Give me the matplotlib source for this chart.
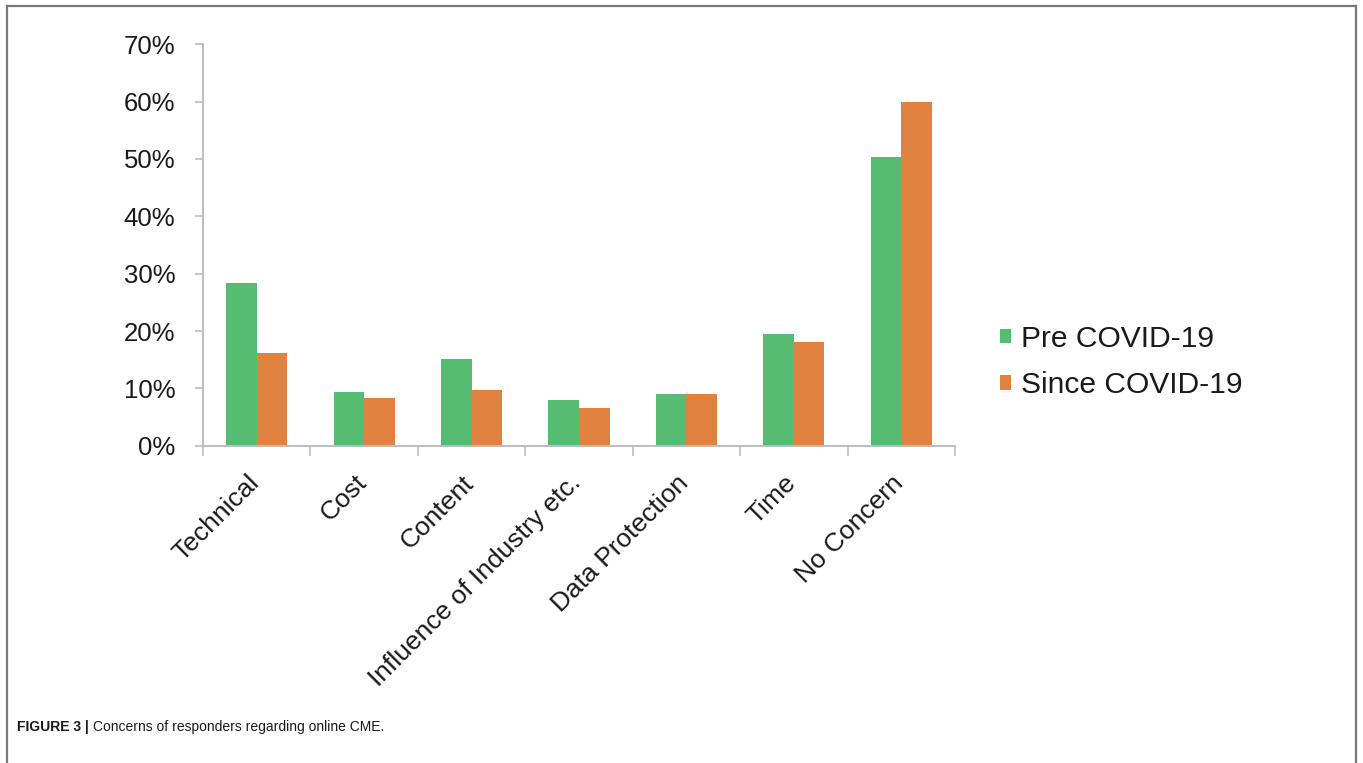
import matplotlib
matplotlib.use("Agg")
import matplotlib.pyplot as plt
from matplotlib.lines import Line2D
from matplotlib.patches import Patch
from matplotlib.ticker import FuncFormatter, FixedLocator
from matplotlib.transforms import ScaledTranslation
import numpy as np

categories = ["Technical", "Cost", "Content", "Influence of Industry etc.",
              "Data Protection", "Time", "No Concern"]
pre_covid = [28.3, 9.4, 15.1, 8.0, 9.0, 19.5, 50.3]
since_covid = [16.2, 8.3, 9.7, 6.6, 9.0, 18.0, 60.0]
series_names = ["Pre COVID-19", "Since COVID-19"]
y_ticks = [0, 10, 20, 30, 40, 50, 60, 70]
caption_bold = "FIGURE 3 |"
caption_text = "Concerns of responders regarding online CME."

green = "#55BC72"
orange = "#E0813F"
axis_gray = "#BDBDBD"
text_c = "#1a1a1a"

plt.rcParams['font.family'] = ['Liberation Sans', 'DejaVu Sans']

W, H = 1363, 763
fig = plt.figure(figsize=(W / 100, H / 100), dpi=100)

ax = fig.add_axes([203 / W, 1 - 445.7 / H, 752 / W, 401.4 / H])
x = np.arange(len(categories))
bw = 0.284
ax.bar(x - bw / 2, pre_covid, width=bw, color=green, label=series_names[0])
ax.bar(x + bw / 2, since_covid, width=bw, color=orange, label=series_names[1])

ax.set_xlim(-0.5, len(categories) - 0.5)
ax.set_ylim(0, 70)
ax.set_yticks(y_ticks)
ax.yaxis.set_major_formatter(FuncFormatter(lambda v, p: f"{v:.0f}%"))

for s in ["top", "right"]:
    ax.spines[s].set_visible(False)
for s in ["left", "bottom"]:
    ax.spines[s].set_color(axis_gray)
    ax.spines[s].set_linewidth(1.4)

ax.tick_params(axis="y", length=6, width=1.2, color=axis_gray, pad=14,
               labelsize=18.5, labelcolor=text_c)
ax.set_xticks(x)
ax.set_xticklabels(categories, rotation=45, ha="right", va="top",
                   rotation_mode="anchor", fontsize=19, color=text_c)
ax.tick_params(axis="x", which="major", length=0, pad=18)
shift = ScaledTranslation(-10 / 100, 0, fig.dpi_scale_trans)
for lbl in ax.get_xticklabels():
    lbl.set_transform(lbl.get_transform() + shift)
ax.xaxis.set_minor_locator(FixedLocator(np.arange(-0.5, len(categories), 1.0)))
ax.tick_params(axis="x", which="minor", length=7, width=1.2, color=axis_gray)

handles = [Patch(facecolor=green, edgecolor="none"),
           Patch(facecolor=orange, edgecolor="none")]
fig.legend(handles, series_names, loc="center left",
           bbox_to_anchor=(1000 / W, 1 - 362 / H), frameon=False,
           fontsize=21.6, handlelength=0.36, handleheight=0.36,
           handletextpad=0.33, labelspacing=0.62, borderpad=0,
           borderaxespad=0, labelcolor=text_c)

# frame around figure
frame_c = "#7a7a7a"
fig.add_artist(Line2D([7 / W, 7 / W], [0, 1 - 6 / H], color=frame_c, lw=1.6,
                      transform=fig.transFigure))
fig.add_artist(Line2D([7 / W, 1356 / W], [1 - 6 / H, 1 - 6 / H], color=frame_c,
                      lw=1.6, transform=fig.transFigure))
fig.add_artist(Line2D([1356 / W, 1356 / W], [0, 1 - 6 / H], color=frame_c,
                      lw=1.6, transform=fig.transFigure))

cap_size = 10
t1 = fig.text(17 / W, 1 - 727 / H, caption_bold, fontsize=cap_size,
              fontweight="bold", va="center", ha="left", color=text_c)
fig.canvas.draw()
bb = t1.get_window_extent(renderer=fig.canvas.get_renderer())
fig.text((bb.x1 + 4) / W, 1 - 727 / H, caption_text, fontsize=cap_size,
         va="center", ha="left", color=text_c)

fig.savefig("out.png", dpi=100)
